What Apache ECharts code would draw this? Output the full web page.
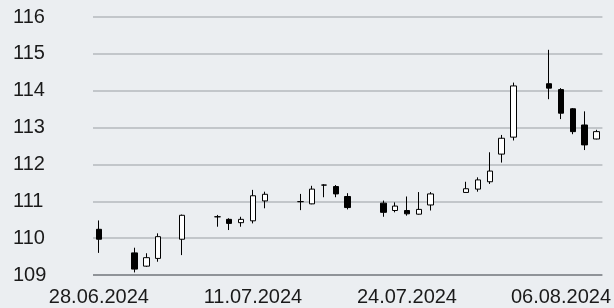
<!DOCTYPE html>
<html>
<head>
<meta charset="utf-8">
<script src="https://cdn.jsdelivr.net/npm/echarts@6/dist/echarts.min.js"></script>
<style>
  html, body { margin: 0; padding: 0; background: #ebeef1; }
  #main { width: 614px; height: 308px; }
</style>
</head>
<body>
<div id="main"></div>
<script>
// calendar days 28.06.2024 .. 09.08.2024, weekends / holidays empty
var days = [];
for (var k = 0; k < 43; k++) {
    var d = new Date(2024, 5, 28 + k);
    var dd = ('0' + d.getDate()).slice(-2), mm = ('0' + (d.getMonth() + 1)).slice(-2);
    days.push(dd + '.' + mm + '.' + d.getFullYear());
}

var opens  = [110.24, null, null, 109.60, 109.24, 109.45, null, 109.97, null, null,
              110.58, 110.51, 110.42, 110.47, 111.01, null, null, 110.99, 110.93, 111.44,
              111.40, 111.13, null, null, 110.95, 110.75, 110.75, 110.65, 110.90, null,
              null, 111.24, 111.33, 111.53, 112.28, 112.74, null, null, 114.19, 114.03,
              113.51, 113.07, 112.69];
var closes = [109.97, null, null, 109.16, 109.47, 110.04, null, 110.62, null, null,
              110.58, 110.40, 110.51, 111.15, 111.19, null, null, 110.99, 111.33, 111.44,
              111.20, 110.83, null, null, 110.70, 110.87, 110.66, 110.78, 111.20, null,
              null, 111.34, 111.58, 111.82, 112.71, 114.13, null, null, 114.07, 113.39,
              112.89, 112.53, 112.89];
var lows   = [109.60, null, null, 109.07, 109.22, 109.36, null, 109.54, null, null,
              110.31, 110.22, 110.31, 110.40, 110.81, null, null, 110.76, 110.92, 111.11,
              111.11, 110.78, null, null, 110.58, 110.70, 110.61, 110.64, 110.75, null,
              null, 111.24, 111.26, 111.47, 112.05, 112.65, null, null, 113.77, 113.23,
              112.82, 112.39, 112.68];
var highs  = [110.48, null, null, 109.74, 109.59, 110.13, null, 110.64, null, null,
              110.63, 110.54, 110.58, 111.31, 111.26, null, null, 111.20, 111.42, 111.46,
              111.44, 111.22, null, null, 111.02, 110.97, 111.13, 111.25, 111.25, null,
              null, 111.53, 111.65, 112.33, 112.80, 114.22, null, null, 115.11, 114.07,
              113.53, 113.44, 112.94];
var yTicks = [109, 110, 111, 112, 113, 114, 115, 116];

var candles = opens.map(function (o, i) {
    if (o == null) return '-';
    return [o, closes[i], lows[i], highs[i]];
});

var myChart = echarts.init(document.getElementById('main'));
var option = {
    backgroundColor: '#ebeef1',
    animation: false,
    grid: { left: 93, right: 11, top: 17, bottom: 33 },
    xAxis: {
        type: 'category',
        data: days,
        boundaryGap: true,
        axisLine: { show: false },
        axisTick: { show: false },
        axisLabel: {
            interval: 12,
            margin: 12,
            color: '#1a1a1a',
            fontFamily: 'Liberation Sans, Arial, sans-serif',
            fontSize: 20
        },
        splitLine: { show: false }
    },
    yAxis: {
        type: 'value',
        min: yTicks[0],
        max: yTicks[yTicks.length - 1],
        interval: 1,
        axisLine: { show: false },
        axisTick: { show: false },
        axisLabel: {
            align: 'left',
            margin: 80,
            color: '#1a1a1a',
            fontFamily: 'Liberation Sans, Arial, sans-serif',
            fontSize: 20
        },
        splitLine: {
            lineStyle: {
                color: ['#70757a', '#b5b9bd', '#b5b9bd', '#b5b9bd', '#b5b9bd', '#b5b9bd', '#b5b9bd', '#b5b9bd'],
                width: 1.5
            }
        }
    },
    series: [{
        type: 'candlestick',
        data: candles,
        barWidth: 6,
        itemStyle: {
            color: '#ffffff',
            color0: '#000000',
            borderColor: '#000000',
            borderColor0: '#000000',
            borderWidth: 1
        }
    }]
};
myChart.setOption(option);
window.myChart = myChart;
</script>
</body>
</html>
